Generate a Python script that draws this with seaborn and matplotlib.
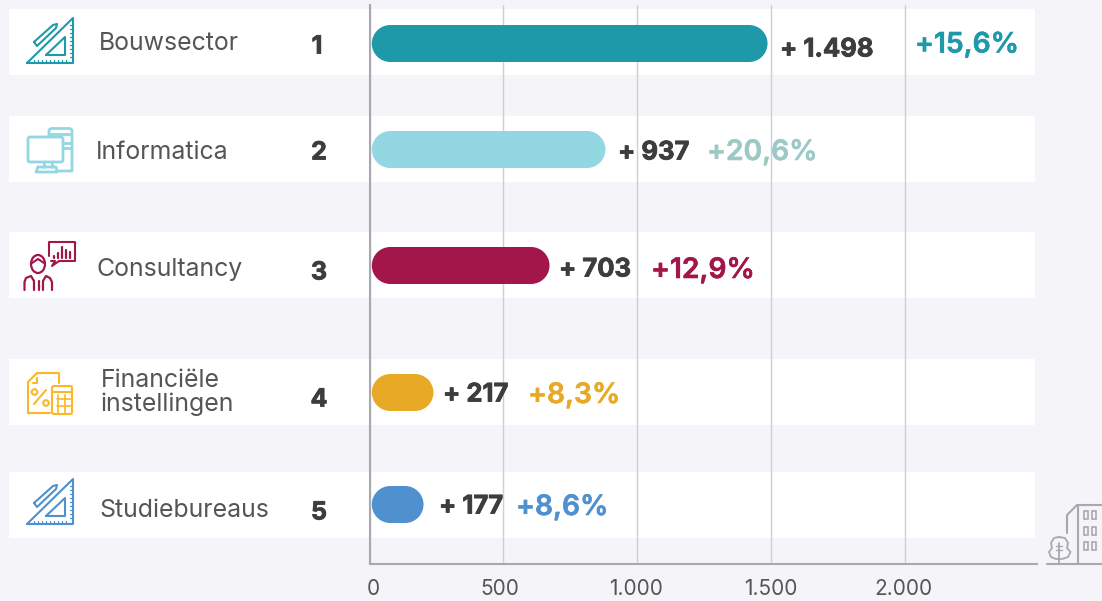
import numpy as np
import pandas as pd
import matplotlib
matplotlib.use("Agg")
import matplotlib.pyplot as plt
import matplotlib.patheffects as pe
import matplotlib.transforms as mtransforms
import seaborn as sns
from matplotlib.path import Path
from matplotlib.patches import FancyBboxPatch, PathPatch, Rectangle, Circle, Ellipse

# data
sectors = ["Bouwsector", "Informatica", "Consultancy", "Financiële\ninstellingen", "Studiebureaus"]
ranks = ["1", "2", "3", "4", "5"]
# bar lengths as drawn against the axis (they differ a bit from the printed labels)
bar_values = [1488, 882, 673, 239, 202]
value_labels = ["+ 1.498", "+ 937", "+ 703", "+ 217", "+ 177"]
pct_labels = ["+15,6%", "+20,6%", "+12,9%", "+8,3%", "+8,6%"]
x_ticks = [0, 500, 1000, 1500, 2000]
x_tick_labels = ["0", "500", "1.000", "1.500", "2.000"]

# colours
bg = "#f4f4f9"
bar_colors = ["#1d99a9", "#93d7e2", "#a2164a", "#e8aa26", "#4f90cf"]
pct_colors = ["#1d99a9", "#9cc9c6", "#a2164a", "#e8aa26", "#4f90cf"]
icon_colors = ["#1d99a9", "#93d7e2", "#a2164a", "#fbb726", "#4f90cf"]
grey = "#a8a8ae"

# layout, in pixels of the reference
W, H = 1102, 601
row_tops = [9, 116, 232, 359, 472]
row_h = 66
bar_y = [43.5, 149.5, 265.5, 392.5, 504.5]
name_pos = [(99, 43.5), (96, 152.5), (96, 269.5), (101, 392.5), (99, 510.5)]
rank_pos = [(317, 47), (319, 153), (319, 273), (319, 400), (319, 513)]
value_pos = [(780, 50), (618, 153), (559, 270), (443, 395), (439, 507)]
pct_pos = [(915, 45), (707, 152.5), (651, 270.5), (528, 395.5), (516, 507.5)]
tick_shift = [4, -3, -1, 0, -1]

sns.set_theme(style="white")
plt.rcParams["font.family"] = ["Inter", "DejaVu Sans"]

fig = plt.figure(figsize=(W / 100, H / 100), dpi=100, facecolor=bg)


def pixel_axes(zorder):
    a = fig.add_axes([0, 0, 1, 1], zorder=zorder)
    a.set_xlim(0, W)
    a.set_ylim(H, 0)
    a.axis("off")
    return a


def pill(x, y, w, h, rx):
    # rounded bar with true half circle ends, rx in x units, ry = h / 2
    k = 0.5523
    ry = h / 2
    x1 = x + w
    ym = y + ry
    y1 = y + h
    verts = [(x + rx, y), (x1 - rx, y),
             (x1 - rx + k * rx, y), (x1, ym - k * ry), (x1, ym),
             (x1, ym + k * ry), (x1 - rx + k * rx, y1), (x1 - rx, y1),
             (x + rx, y1),
             (x + rx - k * rx, y1), (x, ym + k * ry), (x, ym),
             (x, ym - k * ry), (x + rx - k * rx, y), (x + rx, y),
             (x + rx, y)]
    codes = [Path.MOVETO, Path.LINETO] + [Path.CURVE4] * 6 + [Path.LINETO] + [Path.CURVE4] * 6 + [Path.CLOSEPOLY]
    return Path(verts, codes)


back = pixel_axes(0)
for top in row_tops:
    back.add_patch(Rectangle((9, top), 1026, row_h, fc="white", ec="none"))

# main chart, axes box from x=369.5 to 1037 and y=5 to 563.5
ax = fig.add_axes([369.5 / W, 1 - 563.5 / H, 667.5 / W, 558.5 / H], zorder=1)
ax.patch.set_alpha(0)
scale = 0.2675  # px per unit
df = pd.DataFrame({"sector": sectors, "value": bar_values, "y": bar_y})
sns.barplot(data=df, x="value", y="y", hue="sector", palette=bar_colors, orient="h", saturation=1,
            native_scale=True, dodge=False, legend=False, width=37 / 106, ax=ax)
ax.set_xlim(0, 667.5 / scale)
ax.set_ylim(563.5, 5)

# round the bars
for p in list(ax.patches):
    x, y, w, h = p.get_x(), p.get_y(), p.get_width(), p.get_height()
    shift = 2.3 / scale
    ax.add_patch(PathPatch(pill(x + shift, y, w - shift, h, abs(h) / 2 / scale),
                           fc=p.get_facecolor(), ec="none", zorder=3))
    p.remove()

ax.set_xticks(x_ticks)
ax.set_xticklabels(x_tick_labels, fontsize=15, color="#555555")
ax.set_yticks([])
ax.set_xlabel("")
ax.set_ylabel("")
ax.tick_params(axis="x", length=0, pad=11)
for lab, dx in zip(ax.get_xticklabels(), tick_shift):
    lab.set_transform(lab.get_transform() + mtransforms.ScaledTranslation(dx / 100, 0, fig.dpi_scale_trans))
ax.grid(axis="x", color="#cfcfd3", lw=1)
ax.set_axisbelow(True)
for s in ["top", "right"]:
    ax.spines[s].set_visible(False)
for s in ["left", "bottom"]:
    ax.spines[s].set_color(grey)
    ax.spines[s].set_linewidth(1.5)

front = pixel_axes(2)

heavy = [pe.withStroke(linewidth=0.6, foreground="#3d3d3d")]
for i in range(5):
    front.text(*name_pos[i], sectors[i], fontsize=17.9, color="#555555", va="center", ha="left", linespacing=1.02)
    front.text(*rank_pos[i], ranks[i], fontsize=18, color="#3d3d3d", fontweight="bold",
               va="center", ha="center", path_effects=heavy)
    front.text(*value_pos[i], value_labels[i], fontsize=18.4, color="#3d3d3d", fontweight="bold",
               va="center", ha="left", path_effects=heavy)
    front.text(*pct_pos[i], pct_labels[i], fontsize=20.3, color=pct_colors[i], fontweight="semibold",
               va="center", ha="left", path_effects=[pe.withStroke(linewidth=0.4, foreground=pct_colors[i])])


def line(pts, color, lw=1.5):
    xs, ys = zip(*pts)
    front.plot(xs, ys, color=color, lw=lw, solid_capstyle="round", solid_joinstyle="round")


def set_square(dy, color):
    line([(27, 63 + dy), (73, 18 + dy), (73, 63 + dy), (27, 63 + dy)], color)
    line([(46, 55 + dy), (65, 37 + dy), (65, 55 + dy), (46, 55 + dy)], color)
    line([(34, 42 + dy), (53, 25 + dy), (57, 24 + dy), (56, 28 + dy), (37, 46 + dy), (34, 42 + dy)], color)
    for t in range(34, 70, 4):
        line([(t, 63 + dy), (t, 60 + dy)], color, 0.9)
    for t in range(25, 60, 4):
        line([(73, t + dy), (70, t + dy)], color, 0.9)


def monitor(c):
    front.add_patch(FancyBboxPatch((28, 137), 35, 25, boxstyle="round,pad=0,rounding_size=2", fc="none", ec=c, lw=2))
    line([(49, 136), (49, 130), (51, 128.5), (70, 128.5), (72, 130), (72, 171), (58, 171)], c, 2)
    line([(50, 133.5), (71, 133.5)], c, 2)
    line([(64, 143), (71, 143)], c, 2)
    line([(64, 148), (71, 148)], c, 2)
    line([(44, 162), (44, 167)], c, 2)
    line([(52, 162), (52, 167)], c, 2)
    line([(38, 167), (56, 167), (57, 172), (36, 172), (38, 167)], c, 2)


def consultant(c):
    front.add_patch(Ellipse((38, 264), 14, 18, fc="none", ec=c, lw=1.6))
    line([(32, 263), (38, 259), (44, 263)], c)
    line([(24.5, 290), (24.5, 282), (26, 278), (31, 276), (34, 281), (34, 290)], c, 1.6)
    line([(38.5, 281), (38.5, 290)], c, 1.6)
    line([(43, 290), (43, 281), (46, 276), (50, 278), (52, 282), (52, 290)], c, 1.6)
    line([(49, 256), (49, 242), (75, 242), (75, 261), (59, 261), (52, 266), (55, 261), (51, 261)], c)
    for bx, top in zip([54, 58, 62, 66, 70], [256, 253, 247, 250, 252]):
        line([(bx, 258), (bx, top)], c, 1.6)


def finance(c):
    line([(37, 373), (59, 373), (59, 383)], c)
    line([(37, 373), (28, 382), (28, 413), (50, 413)], c)
    line([(33, 383), (37, 383), (37, 378)], c)
    line([(34, 404), (46, 390)], c)
    front.add_patch(Circle((34.5, 392), 2.8, fc="none", ec=c, lw=1.5))
    front.add_patch(Circle((46, 403), 2.8, fc="none", ec=c, lw=1.5))
    front.add_patch(FancyBboxPatch((52, 386), 20, 28, boxstyle="round,pad=0,rounding_size=2", fc="none", ec=c, lw=1.5))
    line([(52, 392), (72, 392)], c)
    for gy in [399, 406]:
        line([(57, gy), (72, gy)], c, 1.2)
    for gx in [58, 65]:
        line([(gx, 395), (gx, 413)], c, 1.2)


def building(c):
    line([(1047, 564), (1102, 564)], c, 1.5)
    line([(1078, 564), (1078, 504.5), (1102, 504.5)], c, 1.5)
    line([(1067, 533), (1067, 515), (1077, 505)], c, 1.5)
    for wy in [511, 527, 542]:
        for wx in [1084, 1092]:
            front.add_patch(Rectangle((wx, wy), 4, 8, fc="none", ec=c, lw=1.2))
    tree = [(1059, 537), (1054, 538), (1051, 543), (1052, 548), (1049, 552), (1051, 557), (1056, 559),
            (1062, 559), (1068, 557), (1070.5, 552), (1067, 548), (1068, 543), (1065, 538), (1059, 537)]
    line(tree, c, 1.3)
    line([(1059, 543), (1059, 564)], c, 1.3)
    line([(1056, 546), (1062, 546)], c, 1.0)
    line([(1056, 550), (1062, 550)], c, 1.0)


set_square(0, icon_colors[0])
monitor(icon_colors[1])
consultant(icon_colors[2])
finance(icon_colors[3])
set_square(461, icon_colors[4])
building(grey)
front.set_xlim(0, W)
front.set_ylim(H, 0)

fig.savefig("out.png", dpi=100, facecolor=bg)
